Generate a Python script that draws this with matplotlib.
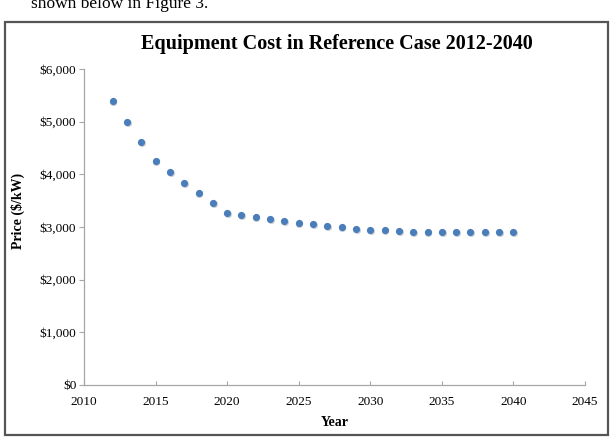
import matplotlib
matplotlib.use('Agg')
import matplotlib.pyplot as plt
import matplotlib.transforms as mtransforms
from matplotlib.patches import Rectangle

years = list(range(2012, 2041))
prices = [5400, 5000, 4620, 4250, 4040, 3840, 3650, 3460, 3260, 3230,
          3190, 3150, 3110, 3070, 3050, 3020, 3000, 2970, 2950, 2940,
          2920, 2910, 2900, 2900, 2900, 2900, 2900, 2900, 2900]
x_ticks = [2010, 2015, 2020, 2025, 2030, 2035, 2040, 2045]
y_ticks = [0, 1000, 2000, 3000, 4000, 5000, 6000]

SERIF = ['Liberation Serif', 'DejaVu Serif']
DOT_COLOR = '#4A7EBB'
AXIS_COLOR = '#A6A6A6'

plt.rcParams['font.family'] = SERIF

fig = plt.figure(figsize=(6.14, 4.45), dpi=100)
ax = fig.add_axes([84 / 614, 1 - 385 / 445, 501 / 614, 316 / 445])

# cadre autour du graphique
fig.patches.append(Rectangle((5 / 614, 1 - 435 / 445), 603 / 614, 413 / 445,
                             transform=fig.transFigure, fill=False,
                             edgecolor='#555555', linewidth=1.6))

# texte du document coupé en haut
fig.text(31 / 614, 1 - 8 / 445, 'shown below in Figure 3.', fontsize=12.5,
         va='baseline', ha='left')

# ombre légère sous les points
shadow = mtransforms.offset_copy(ax.transData, fig=fig, x=0.7, y=-1.0, units='dots')
ax.plot(years, prices, 'o', color='#C8C8C8', markersize=5.2, markeredgewidth=0,
        transform=shadow, alpha=0.8, clip_on=False)
ax.plot(years, prices, 'o', color=DOT_COLOR, markersize=5.2, markeredgewidth=0,
        clip_on=False)

ax.set_xlim(2010, 2045)
ax.set_ylim(0, 6000)
ax.set_xticks(x_ticks)
ax.set_yticks(y_ticks)
ax.set_yticklabels(['${:,}'.format(v) for v in y_ticks])

for side in ['top', 'right']:
    ax.spines[side].set_visible(False)
for side in ['left', 'bottom']:
    ax.spines[side].set_color(AXIS_COLOR)
    ax.spines[side].set_linewidth(0.9)

ax.tick_params(axis='y', direction='out', length=3.5, color=AXIS_COLOR,
               labelsize=9.5, pad=2)
ax.tick_params(axis='x', direction='in', length=3, color=AXIS_COLOR,
               labelsize=9.5, pad=8)

fig.text((84 + 585) / 2 / 614, 1 - 422 / 445, 'Year', fontsize=10,
         fontweight='bold', ha='center', va='center')
fig.text(18 / 614, 1 - 211 / 445, 'Price ($/kW)', fontsize=10,
         fontweight='bold', ha='center', va='center', rotation=90)
fig.text(337 / 614, 1 - 49 / 445, 'Equipment Cost in Reference Case 2012-2040',
         fontsize=14.5, fontweight='bold', ha='center', va='baseline')

fig.savefig('out.png', dpi=100)
